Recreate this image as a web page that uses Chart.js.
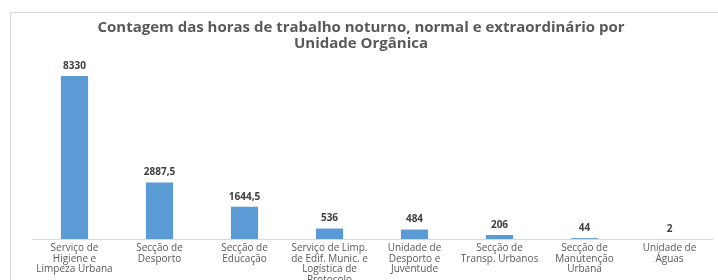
<!DOCTYPE html>
<html>
<head>
<meta charset="utf-8">
<script src="https://cdn.jsdelivr.net/npm/chart.js@4.4.0/dist/chart.umd.min.js"></script>
<style>
    html, body { margin: 0; padding: 0; background: #fff; overflow: hidden; }
    #wrap { position: relative; width: 718px; height: 300px; }
</style>
</head>
<body>
<div id="wrap"><canvas id="myChart" width="718" height="300"></canvas></div>
<script>
/* global Chart */

const categories = [
    ['Serviço de', 'Higiene e', 'Limpeza Urbana'],
    ['Secção de', 'Desporto'],
    ['Secção de', 'Educação'],
    ['Serviço de Limp.', 'de Edif. Munic. e', 'Logística de', 'Protocolo'],
    ['Unidade de', 'Desporto e', 'Juventude'],
    ['Secção de', 'Transp. Urbanos'],
    ['Secção de', 'Manutenção', 'Urbana'],
    ['Unidade de', 'Águas']
];
const horas = [8330, 2887.5, 1644.5, 536, 484, 206, 44, 2];
const labelsTexto = ['8330', '2887,5', '1644,5', '536', '484', '206', '44', '2'];

const fonte = "'Open Sans', 'DejaVu Sans', sans-serif";

// border of the chart box + value labels above bars
const extras = {
    id: 'extras',
    beforeDraw: (chart) => {
        const ctx = chart.ctx;
        ctx.save();
        ctx.strokeStyle = '#d9d9d9';
        ctx.lineWidth = 1;
        ctx.strokeRect(10.5, 12.5, 720, 300);
        ctx.restore();
    },
    afterDatasetsDraw: (chart) => {
        const ctx = chart.ctx;
        const meta = chart.getDatasetMeta(0);
        ctx.save();
        ctx.font = 'bold 10px ' + fonte;
        ctx.fillStyle = '#404040';
        ctx.textAlign = 'center';
        ctx.textBaseline = 'bottom';
        meta.data.forEach((bar, i) => {
            ctx.fillText(labelsTexto[i], bar.x, bar.y - 5);
        });
        ctx.restore();
    }
};

const ctx = document.getElementById('myChart');
const myChart = new Chart(ctx, {
    type: 'bar',
    data: {
        labels: categories,
        datasets: [{
                label: 'Horas',
                data: horas,
                backgroundColor: '#5b9bd5',
                borderWidth: 0,
                categoryPercentage: 1,
                barPercentage: 0.32
            }]
    },
    options: {
        responsive: false,
        animation: false,
        layout: {
            padding: {left: 10, right: 6, top: 0, bottom: 0}
        },
        plugins: {
            legend: {display: false},
            tooltip: {enabled: false},
            title: {
                display: true,
                text: ['Contagem das horas de trabalho noturno, normal e extraordinário por', 'Unidade Orgânica'],
                color: '#595959',
                font: {family: fonte, size: 15, weight: 'bold', lineHeight: 1.1},
                padding: {top: 19, bottom: 11}
            }
        },
        scales: {
            x: {
                grid: {display: false, drawTicks: false},
                border: {color: '#d9d9d9'},
                ticks: {
                    color: '#595959',
                    font: {family: fonte, size: 10, lineHeight: 1.05},
                    maxRotation: 0,
                    autoSkip: false,
                    padding: 4
                },
                afterFit: (s) => { s.height = 61; }
            },
            y: {
                min: 0,
                max: 9000,
                grid: {display: false, drawTicks: false},
                border: {display: false},
                ticks: {display: false},
                afterFit: (s) => { s.width = 22; }
            }
        }
    },
    plugins: [extras]
});
</script>
</body>
</html>
